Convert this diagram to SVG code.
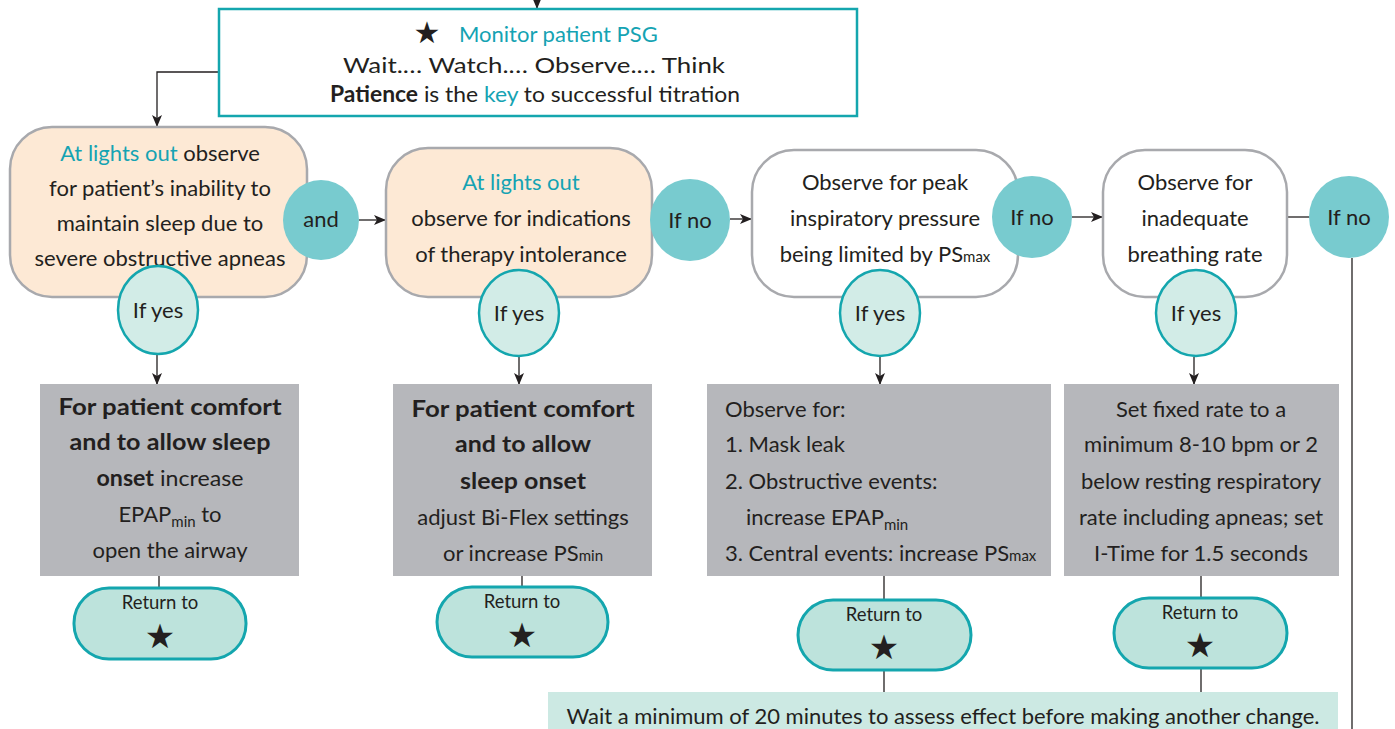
<svg xmlns="http://www.w3.org/2000/svg" width="1395" height="729" viewBox="0 0 1395 729">
<defs>
<marker id="ah" markerWidth="12" markerHeight="10" refX="11" refY="5" orient="auto" markerUnits="userSpaceOnUse">
<path d="M0,0 L12,5 L0,10 L3,5 z" fill="#231f20"/>
</marker>
<style>
text{font-family:Lato,"Liberation Sans",sans-serif;font-size:22px;fill:#231f20}
.c{text-anchor:middle}
.t{fill:#15a3b3}
.b{font-weight:bold}
.sub{font-size:15px}
.star{font-family:"DejaVu Sans",sans-serif;font-size:34px;text-anchor:middle}
.ret{font-size:18.5px;text-anchor:middle}
.ln{stroke:#231f20;stroke-width:1.3;fill:none}
.peach{fill:#fde9d5;stroke:#a8a9ad;stroke-width:2.5}
.white{fill:#fff;stroke:#a8a9ad;stroke-width:2.5}
.dark{fill:#78cbcf}
.yes{fill:#d2ece7;stroke:#14a6ae;stroke-width:2.5}
.gray{fill:#b6b7bb}
.pill{fill:#bde3dc;stroke:#14a6ae;stroke-width:3}
</style>
</defs>

<g id="connectors">
<line class="ln" x1="537" y1="0" x2="537" y2="8" marker-end="url(#ah)"/>
<polyline class="ln" points="218,72 157,72 157,126" marker-end="url(#ah)"/>
<line class="ln" x1="359" y1="220" x2="385" y2="220" marker-end="url(#ah)"/>
<line class="ln" x1="730" y1="219" x2="751" y2="219" marker-end="url(#ah)"/>
<line class="ln" x1="1072" y1="217" x2="1102" y2="217" marker-end="url(#ah)"/>
<line class="ln" x1="1287" y1="217" x2="1310" y2="217"/>
<line class="ln" x1="1352" y1="258" x2="1352" y2="729"/>
<line class="ln" x1="157" y1="354" x2="157" y2="384" marker-end="url(#ah)"/>
<line class="ln" x1="519" y1="356" x2="519" y2="384" marker-end="url(#ah)"/>
<line class="ln" x1="880" y1="357" x2="880" y2="384" marker-end="url(#ah)"/>
<line class="ln" x1="1194" y1="357" x2="1194" y2="384" marker-end="url(#ah)"/>
<line class="ln" x1="159" y1="576" x2="159" y2="588"/>
<line class="ln" x1="522" y1="576" x2="522" y2="587"/>
<line class="ln" x1="884" y1="576" x2="884" y2="600"/>
<line class="ln" x1="884" y1="670" x2="884" y2="692"/>
<line class="ln" x1="1201" y1="576" x2="1201" y2="598"/>
<line class="ln" x1="1201" y1="668" x2="1201" y2="692"/>
</g>

<g id="monitor">
<rect x="219" y="9" width="638" height="107" fill="#fff" stroke="#14a6ae" stroke-width="2.5"/>
<text class="star" x="427" y="43" style="font-size:30px">★</text>
<text x="459" y="42" class="t">Monitor patient PSG</text>
<text class="c" x="534" y="73" textLength="382" lengthAdjust="spacingAndGlyphs">Wait.… Watch.… Observe.… Think</text>
<text class="c" x="535" y="102" textLength="410" lengthAdjust="spacingAndGlyphs"><tspan class="b">Patience</tspan> is the <tspan class="t">key</tspan> to successful titration</text>
</g>

<g id="box1">
<rect class="peach" x="10" y="127" width="297" height="170" rx="42"/>
<text class="c" x="160" y="161"><tspan class="t">At lights out</tspan> observe</text>
<text class="c" x="160" y="196">for patient’s inability to</text>
<text class="c" x="160" y="231">maintain sleep due to</text>
<text class="c" x="160" y="266">severe obstructive apneas</text>
</g>
<g id="and">
<ellipse class="dark" cx="321" cy="220" rx="38" ry="40"/>
<text class="c" x="321" y="227">and</text>
</g>

<g id="box2">
<rect class="peach" x="386" y="148" width="266" height="149" rx="42"/>
<text class="c t" x="521" y="190">At lights out</text>
<text class="c" x="521" y="226">observe for indications</text>
<text class="c" x="521" y="262">of therapy intolerance</text>
</g>
<g id="ifno1">
<ellipse class="dark" cx="690" cy="220" rx="40" ry="41"/>
<text class="c" x="690" y="228">If no</text>
</g>

<g id="box3">
<rect class="white" x="752" y="150" width="266" height="147" rx="42"/>
<text class="c" x="885" y="190">Observe for peak</text>
<text class="c" x="885" y="226">inspiratory pressure</text>
<text class="c" x="885" y="262">being limited by PS<tspan class="sub">max</tspan></text>
</g>
<g id="ifno2">
<ellipse class="dark" cx="1032" cy="217" rx="40" ry="41"/>
<text class="c" x="1032" y="225">If no</text>
</g>

<g id="box4">
<rect class="white" x="1103" y="150" width="184" height="147" rx="42"/>
<text class="c" x="1195" y="190">Observe for</text>
<text class="c" x="1195" y="226">inadequate</text>
<text class="c" x="1195" y="262">breathing rate</text>
</g>
<g id="ifno3">
<ellipse class="dark" cx="1349" cy="217" rx="40" ry="41"/>
<text class="c" x="1349" y="225">If no</text>
</g>

<g id="ifyes1"><ellipse class="yes" cx="158" cy="310" rx="40" ry="44"/><text class="c" x="158" y="318">If yes</text></g>
<g id="ifyes2"><ellipse class="yes" cx="519" cy="313" rx="40" ry="43"/><text class="c" x="519" y="321">If yes</text></g>
<g id="ifyes3"><ellipse class="yes" cx="880" cy="313" rx="40" ry="43"/><text class="c" x="880" y="321">If yes</text></g>
<g id="ifyes4"><ellipse class="yes" cx="1196" cy="313" rx="40" ry="43"/><text class="c" x="1196" y="321">If yes</text></g>

<g id="action1">
<rect class="gray" x="40" y="384" width="259" height="192"/>
<text class="c b" x="170" y="415" textLength="223" lengthAdjust="spacingAndGlyphs">For patient comfort</text>
<text class="c b" x="170" y="450" textLength="201" lengthAdjust="spacingAndGlyphs">and to allow sleep</text>
<text class="c" x="170" y="486" textLength="147" lengthAdjust="spacingAndGlyphs"><tspan class="b">onset</tspan> increase</text>
<text class="c" x="170" y="522">EPAP<tspan class="sub" dy="5">min</tspan><tspan dy="-5"> to</tspan></text>
<text class="c" x="170" y="558">open the airway</text>
</g>

<g id="action2">
<rect class="gray" x="393" y="384" width="259" height="192"/>
<text class="c b" x="523" y="417" textLength="223" lengthAdjust="spacingAndGlyphs">For patient comfort</text>
<text class="c b" x="523" y="452" textLength="136" lengthAdjust="spacingAndGlyphs">and to allow</text>
<text class="c b" x="523" y="489" textLength="126" lengthAdjust="spacingAndGlyphs">sleep onset</text>
<text class="c" x="523" y="525">adjust Bi-Flex settings</text>
<text class="c" x="523" y="561">or increase PS<tspan class="sub">min</tspan></text>
</g>

<g id="action3">
<rect class="gray" x="707" y="384" width="344" height="192"/>
<text x="725" y="417">Observe for:</text>
<text x="725" y="452">1. Mask leak</text>
<text x="725" y="489">2. Obstructive events:</text>
<text x="746" y="525">increase EPAP<tspan class="sub" dy="5">min</tspan></text>
<text x="725" y="561">3. Central events: increase PS<tspan class="sub">max</tspan></text>
</g>

<g id="action4">
<rect class="gray" x="1064" y="384" width="275" height="192"/>
<text class="c" x="1201" y="417">Set fixed rate to a</text>
<text class="c" x="1201" y="452">minimum 8-10 bpm or 2</text>
<text class="c" x="1201" y="489">below resting respiratory</text>
<text class="c" x="1201" y="525">rate including apneas; set</text>
<text class="c" x="1201" y="561">I-Time for 1.5 seconds</text>
</g>

<g id="return1"><rect class="pill" x="74" y="588" width="172" height="71" rx="35"/><text class="ret" x="160" y="609">Return to</text><text class="star" x="160" y="648">★</text></g>
<g id="return2"><rect class="pill" x="437" y="587" width="171" height="70" rx="35"/><text class="ret" x="522" y="608">Return to</text><text class="star" x="522" y="647">★</text></g>
<g id="return3"><rect class="pill" x="798" y="600" width="173" height="70" rx="35"/><text class="ret" x="884" y="621">Return to</text><text class="star" x="884" y="659">★</text></g>
<g id="return4"><rect class="pill" x="1114" y="598" width="173" height="70" rx="35"/><text class="ret" x="1200" y="619">Return to</text><text class="star" x="1200" y="657">★</text></g>

<g id="note">
<rect x="548" y="692" width="790" height="37" fill="#cce9e3"/>
<text class="c" x="943" y="724">Wait a minimum of 20 minutes to assess effect before making another change.</text>
</g>
</svg>
